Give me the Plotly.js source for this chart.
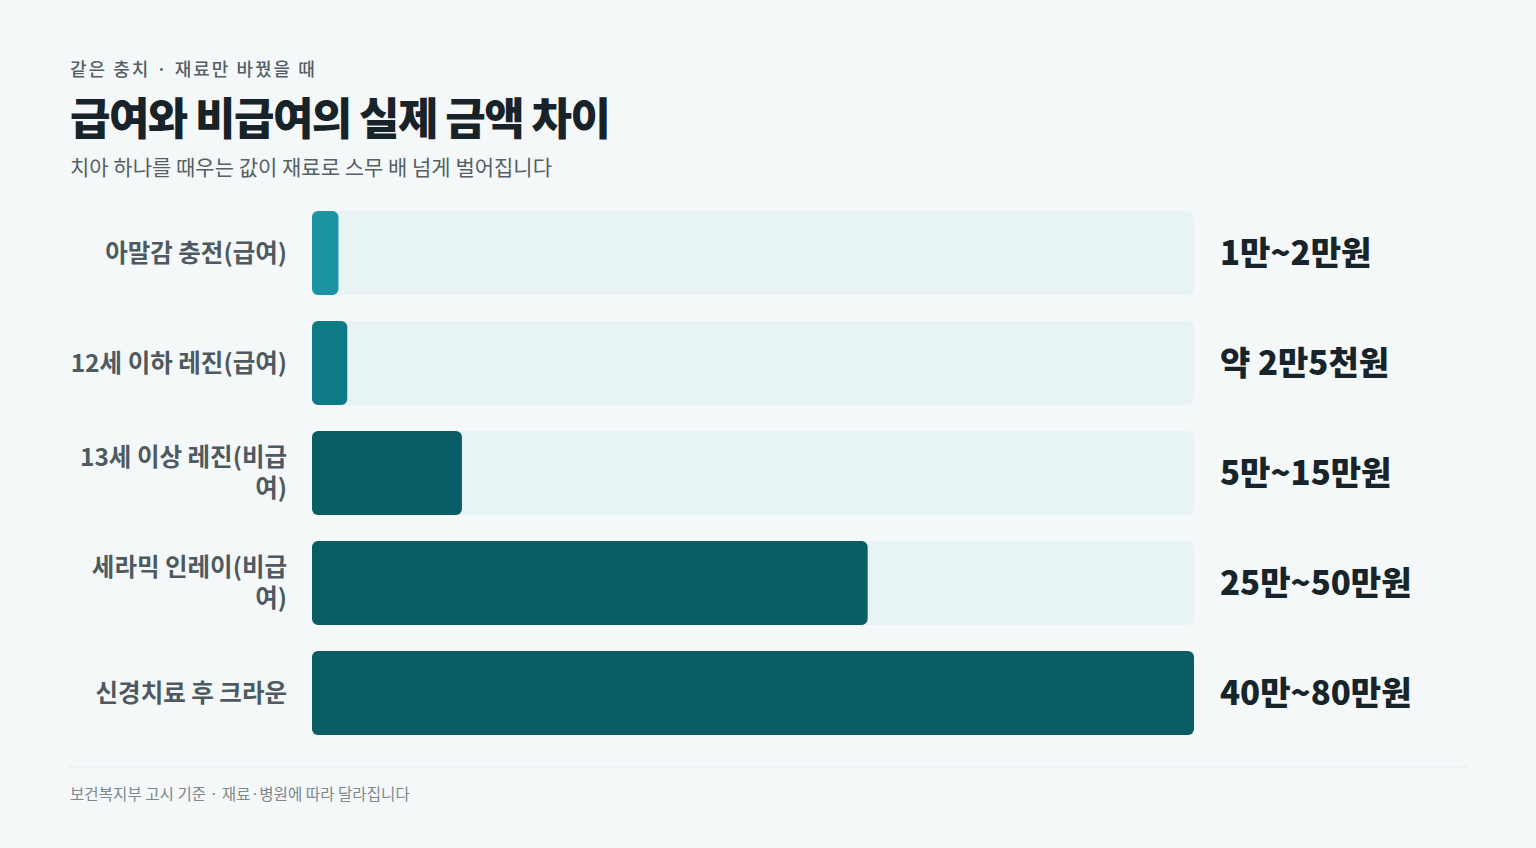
<!DOCTYPE html>
<html>
<head>
<meta charset="utf-8">
<script src="https://cdn.plot.ly/plotly-3.0.1.min.js"></script>
<style>
html,body{margin:0;padding:0;background:#f4f8f9;}
#chart{width:1536px;height:848px;}
</style>
</head>
<body>
<div id="chart"></div>
<script>
// Data
var categories = ["아말감 충전(급여)", "12세 이하 레진(급여)", "13세 이상 레진(비급여)", "세라믹 인레이(비급여)", "신경치료 후 크라운"];
var tickLabels = ["아말감 충전(급여)", "12세 이하 레진(급여)", "13세 이상 레진(비급<br>여)", "세라믹 인레이(비급<br>여)", "신경치료 후 크라운"];
var valuesManwon = [1.8, 2.4, 10.2, 37.8, 60];
var trackMax = [60, 60, 60, 60, 60];
var valueLabels = ["1만~2만원", "약 2만5천원", "5만~15만원", "25만~50만원", "40만~80만원"];
var barColors = ["#1a93a2", "#0e7a86", "#0a5c66", "#0a5c66", "#0a5c66"];

var W = 1536, H = 848;
var L = 312, R = 1194, T = 198, B = 748;
function px(x){ return (x - L) / (R - L); }
function py(y){ return (B - y) / (B - T); }

var font = "Noto Sans CJK KR, Noto Sans, sans-serif";
var BW = 0.764, CR = 6;

// base:0 makes Plotly round all four corners of each bar
var traces = [
  {type:"bar", orientation:"h", y:categories, x:trackMax, base:0, marker:{color:"#e8f3f5", cornerradius:CR, line:{width:0}}, width:BW, hoverinfo:"skip", showlegend:false},
  {type:"bar", orientation:"h", y:categories, x:valuesManwon, base:0, marker:{color:barColors, cornerradius:CR, line:{width:0}}, width:BW, hoverinfo:"skip", showlegend:false}
];

var annotations = [];
for (var i=0;i<categories.length;i++){
  annotations.push({xref:"x", yref:"y", x:trackMax[i], y:categories[i], xanchor:"left", yanchor:"middle", xshift:24, yshift:2, showarrow:false,
    text:valueLabels[i], font:{family:font, size:33, color:"#17252b", weight:800}});
}
annotations.push({xref:"paper", yref:"paper", x:px(68), y:py(68), xanchor:"left", yanchor:"middle", showarrow:false,
  text:"같은 충치 · 재료만 바꿨을 때", font:{family:font, size:18, color:"#555f64", weight:500}});
annotations.push({xref:"paper", yref:"paper", x:px(68), y:py(116), xanchor:"left", yanchor:"middle", showarrow:false,
  text:"급여와 비급여의 실제 금액 차이", font:{family:font, size:44, color:"#172328", weight:900}});
annotations.push({xref:"paper", yref:"paper", x:px(68), y:py(166), xanchor:"left", yanchor:"middle", showarrow:false,
  text:"치아 하나를 때우는 값이 재료로 스무 배 넘게 벌어집니다", font:{family:font, size:21, color:"#555f64"}});
annotations.push({xref:"paper", yref:"paper", x:px(68), y:py(793), xanchor:"left", yanchor:"middle", showarrow:false,
  text:"보건복지부 고시 기준 · 재료·병원에 따라 달라집니다", font:{family:font, size:15.6, color:"#7d878c"}});

var layout = {
  width:W, height:H,
  paper_bgcolor:"#f4f8f9", plot_bgcolor:"rgba(0,0,0,0)",
  margin:{l:L, r:W-R, t:T, b:H-B, pad:0},
  barmode:"overlay",
  showlegend:false,
  xaxis:{range:[0,60], visible:false, fixedrange:true},
  yaxis:{type:"category", autorange:false, range:[4.5,-0.5], tickvals:categories, ticktext:tickLabels,
    ticks:"", ticklabelstandoff:24, showgrid:false, zeroline:false, showline:false,
    tickfont:{family:font, size:24.5, color:"#4f5a60", weight:600}},
  annotations:annotations,
  shapes:[{type:"line", xref:"paper", yref:"paper", x0:px(68), x1:px(1468), y0:py(767), y1:py(767), line:{color:"#e3e9eb", width:1}}]
};

function spacing(prefix, ls){
  var texts = document.querySelectorAll("text.annotation-text");
  texts.forEach(function(t){
    if (t.textContent.indexOf(prefix) === 0){
      var left = t.getBBox().x;
      t.setAttribute("text-anchor", "start");
      t.setAttribute("x", left);
      t.style.letterSpacing = ls;
    }
  });
}

Plotly.newPlot("chart", traces, layout, {displayModeBar:false, staticPlot:true}).then(function(){
  spacing("급여와 비급여의", "-1.6px");
  spacing("같은 충치", "2px");
});
</script>
</body>
</html>
